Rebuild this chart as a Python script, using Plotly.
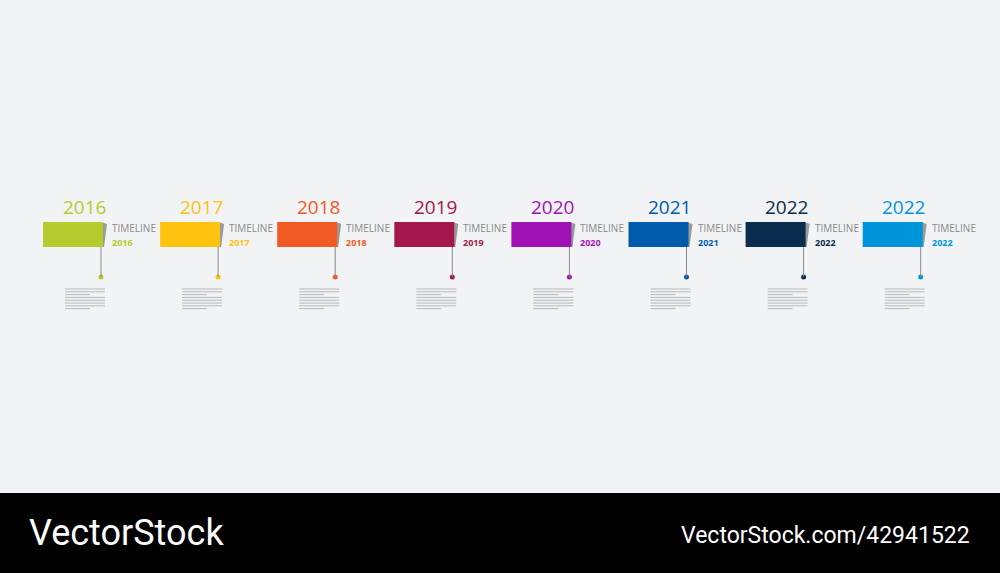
import plotly.graph_objects as go

years = ["2016", "2017", "2018", "2019", "2020", "2021", "2022", "2022"]
colors = ["#B5CC2E", "#FFC20E", "#F15A24", "#A3174A", "#A112B5", "#005BAC", "#0A2C4E", "#0095DA"]
label = "TIMELINE"

fig = go.Figure()
shapes = []
x0, step = 43, 117.1
for i, (y, c) in enumerate(zip(years, colors)):
    bx = x0 + i * step
    shapes.append(dict(type="path", path=f"M {bx+58},{222} L {bx+64},{224} L {bx+61},{247} L {bx+58},{247} Z",
                       fillcolor="#9a9a9a", line_width=0, layer="below"))
    shapes.append(dict(type="rect", x0=bx, x1=bx + 60, y0=222, y1=247, fillcolor=c, line_width=0))
    shapes.append(dict(type="line", x0=bx + 58, x1=bx + 58, y0=247, y1=277, line=dict(color="#8a8a8a", width=1)))
    fig.add_trace(go.Scatter(x=[bx + 58], y=[277], mode="markers", marker=dict(color=c, size=5), hoverinfo="skip"))
    fig.add_annotation(x=bx + 41, y=207, text=y, showarrow=False, font=dict(family="Open Sans", size=19, color=c))
    fig.add_annotation(x=bx + 67, y=228, text=label, showarrow=False, xanchor="left", yanchor="middle",
                       font=dict(family="Open Sans", size=10, color="#8a8a8a"))
    fig.add_annotation(x=bx + 67, y=242, text=f"<b>{y}</b>", showarrow=False, xanchor="left", yanchor="middle",
                       font=dict(family="Open Sans", size=9, color=c))
    for k in range(8):
        ly = 289 + k * 2.8
        w = 40 if k not in (2, 7) else 25
        shapes.append(dict(type="line", x0=bx + 22, x1=bx + 22 + w, y0=ly, y1=ly,
                           line=dict(color="#b8b8b8", width=1)))

shapes.append(dict(type="rect", x0=0, x1=1000, y0=493, y1=573, fillcolor="black", line_width=0))
fig.add_annotation(x=27, y=533, text="VectorStock", xanchor="left", showarrow=False,
                   font=dict(family="Roboto", size=36, color="white"))
fig.add_annotation(x=972, y=535, text="VectorStock.com/42941522", xanchor="right", showarrow=False,
                   font=dict(family="Roboto", size=23, color="white"))

fig.update_layout(width=1000, height=573, margin=dict(l=0, r=0, t=0, b=0), showlegend=False,
                  paper_bgcolor="#F1F3F4", plot_bgcolor="#F1F3F4", shapes=shapes,
                  xaxis=dict(range=[0, 1000], visible=False, fixedrange=True),
                  yaxis=dict(range=[573, 0], visible=False, fixedrange=True))
fig.write_html("out.html", config={"displayModeBar": False},
               post_script="document.body.style.margin='0';document.body.style.overflow='hidden';")
